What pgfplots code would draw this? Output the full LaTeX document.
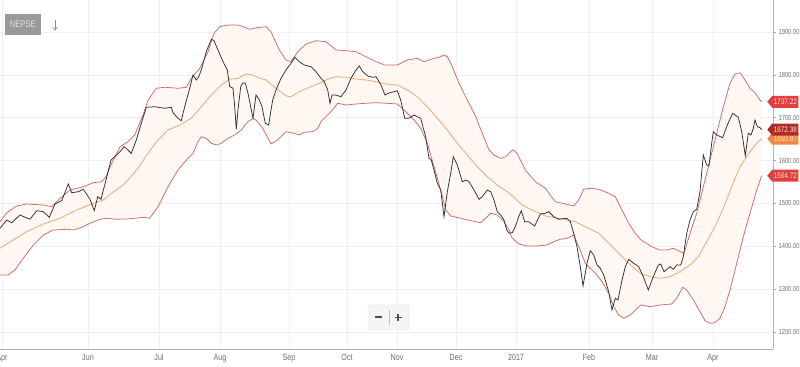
\documentclass[border=0pt]{standalone}
\usepackage{fontspec}
\setmainfont{Liberation Sans}
\newfontfamily\condfont[FakeStretch=0.8]{Liberation Sans}
\usepackage{pgfplots}
\pgfplotsset{compat=1.18}
\usepackage{pgfplotstable}
\usepgfplotslibrary{fillbetween}
\usetikzlibrary{shapes.symbols}
\definecolor{bandred}{HTML}{D06A6A}
\definecolor{midorange}{HTML}{EDB07C}
\definecolor{bandfill}{HTML}{FFF8F2}
\definecolor{gridc}{HTML}{EFEFEF}
\definecolor{labgray}{HTML}{6E6E6E}
\definecolor{flagred}{HTML}{E0403C}
\definecolor{flagdark}{HTML}{B02A22}
\definecolor{flagorange}{HTML}{F08A3E}

\pgfplotstableread{
x y
0 1442.0
6.7 1461.3
11.7 1455.0
20 1473.0
30 1463.0
36.7 1483.0
43.3 1480.7
49.3 1467.6
55 1498.7
61.7 1506.4
68.3 1545.3
71.7 1525.0
78.3 1527.3
83.3 1533.0
90 1509.6
94.3 1483.0
97.7 1515.7
101 1509.6
106 1554.7
111 1601.3
116.7 1613.0
120 1620.7
124 1632.3
128 1624.7
131.3 1617.0
136.3 1648.0
141.3 1687.0
146.3 1724.3
154.7 1725.7
164.7 1722.0
171.3 1724.3
173 1711.7
178 1698.7
181.3 1693.0
184.7 1725.7
189.7 1768.7
193 1799.7
196.3 1788.0
198.7 1795.7
201.3 1811.3
206.3 1854.0
211.3 1883.0
214 1879.7
218 1858.0
223 1830.7
227.3 1811.3
229.7 1772.4
233 1768.7
234.7 1725.7
236.3 1673.0
238 1718.0
240.7 1772.4
243 1781.7
245.3 1780.3
248 1757.0
250.7 1725.7
253 1698.7
256 1753.0
259.3 1741.3
262 1725.7
265.3 1687.0
268.7 1683.0
271 1718.0
272.7 1741.3
276 1764.7
281 1792.0
286 1811.3
291 1827.0
295 1841.0
299.3 1830.7
304.3 1823.0
311 1819.0
316 1807.4
321 1792.0
324.3 1784.0
327.7 1764.7
330 1733.7
332 1753.0
335.3 1753.0
341 1749.0
346 1764.7
351 1792.0
356 1811.3
359.3 1820.7
362.7 1807.4
367.7 1797.3
372.7 1794.3
376 1795.7
381 1776.3
385 1753.0
389 1757.7
394 1760.7
397.3 1763.0
400.7 1741.3
404.7 1698.7
409 1698.7
414 1706.3
417.3 1702.3
420.7 1698.7
423.3 1675.3
425.7 1655.7
429 1605.3
431.3 1601.3
434 1578.0
437.3 1547.0
440.7 1531.3
444 1469.0
447.3 1527.3
450.7 1570.3
453.3 1609.0
457.3 1589.7
462.3 1550.7
465.7 1554.7
469 1550.7
474 1531.3
479 1509.6
482.3 1515.7
487.3 1531.3
490.7 1527.3
494 1508.0
497.3 1480.7
500.7 1473.0
504 1461.3
506.7 1438.0
509 1430.3
512.3 1432.0
515.3 1445.7
518.7 1469.0
521.3 1483.0
524.7 1457.3
528.7 1457.3
534.7 1447.3
540.3 1475.3
545.3 1477.0
548.7 1480.7
553.7 1469.0
558.7 1463.0
567 1465.3
570.3 1457.3
573.7 1430.3
577 1399.0
580.3 1352.3
583 1307.3
587 1360.3
590.3 1389.7
593.7 1379.7
597 1356.3
600.3 1348.6
603.7 1333.0
608.7 1294.0
612 1251.3
615.3 1278.6
618 1274.7
622 1321.3
625.3 1352.3
628.7 1369.6
633.7 1360.3
638.7 1352.3
641 1340.7
643.3 1329.0
648.3 1298.0
653.3 1329.0
658.3 1356.3
660.7 1358.7
664 1340.7
670 1352.3
673.3 1346.3
676.7 1356.3
680.7 1356.3
683.3 1375.7
686.7 1430.3
690 1461.3
693.3 1480.7
696.7 1486.3
700 1527.3
703.3 1613.0
706.7 1589.7
709 1588.0
711.7 1640.3
713.3 1667.4
716.7 1659.7
722.7 1653.4
727.3 1683.0
732.7 1710.3
738.3 1701.0
741.7 1667.4
745.3 1611.4
748.3 1663.7
751 1659.7
753.3 1675.3
755 1694.7
757.3 1679.0
760 1676.7
761.7 1672.38
}\closedata

\pgfplotstableread{
x y
0 1457.4
6.7 1478.4
16.7 1494.0
26.7 1498.7
43.3 1496.3
51.7 1492.4
58.3 1508.0
70 1531.3
83.3 1539.0
93.3 1548.4
101.7 1550.7
106 1562.4
111.7 1593.6
120 1632.3
128 1644.0
134.7 1659.7
143 1706.3
148 1741.3
156.3 1768.7
164.7 1771.0
178 1768.7
186.3 1771.0
191.3 1792.0
199.7 1815.3
208 1854.0
214 1897.0
219.7 1912.4
228 1916.3
238 1916.3
243 1912.4
249.7 1906.3
257 1910.0
266 1912.4
271 1900.7
279.3 1858.0
286 1834.7
291 1830.7
297.7 1854.0
306 1872.0
316 1879.7
326 1877.4
336 1858.0
346 1856.4
356 1854.0
366 1842.4
376 1830.7
385 1823.0
397.3 1823.0
407.3 1834.7
417.3 1838.7
424 1830.7
430.7 1836.3
439 1841.0
444 1846.4
447.3 1842.4
452.3 1819.0
459 1780.3
467.3 1741.3
475.7 1702.4
482.3 1663.7
489 1624.7
494 1613.0
500.7 1605.3
505.7 1609.0
510.7 1620.7
513 1625.5
517 1617.0
525.3 1578.0
535.3 1550.7
545.3 1535.3
555.3 1504.0
565.3 1498.7
573.7 1494.0
578.7 1508.0
583.7 1533.0
590.3 1535.3
598.7 1533.0
608.7 1523.7
615.3 1515.7
622 1484.7
628.7 1453.6
635.3 1430.3
641 1414.7
651.7 1399.0
660 1391.3
666.7 1391.3
673.3 1395.3
681.7 1386.0
684 1383.6
690 1430.3
696.7 1477.0
703.3 1539.0
710 1601.3
716.7 1663.7
723.3 1725.7
730 1780.3
735 1802.0
740 1805.0
745 1788.0
750 1768.7
755 1758.4
760 1741.3
761.7 1737.22
}\upperdata

\pgfplotstableread{
x y
0 1395.3
13.3 1414.7
26.7 1434.0
43.3 1452.0
60 1465.3
76.7 1484.7
93.3 1500.3
103.3 1508.0
113.3 1527.3
123.3 1543.0
128 1554.7
138 1582.0
148 1617.0
158 1648.0
168 1671.3
179.7 1683.0
191.3 1698.7
201.3 1725.7
211.3 1753.0
221.3 1776.3
229.7 1789.7
238 1792.0
246.3 1802.0
253 1799.7
257 1794.3
266 1788.0
276 1768.7
286 1750.7
291 1749.0
299.3 1760.7
309.3 1771.0
319.3 1780.3
327.7 1789.7
336 1795.7
346 1794.3
356 1790.3
366 1788.0
376 1784.0
385 1779.0
397.3 1776.3
407.3 1764.7
417.3 1749.0
427.3 1725.7
437.3 1698.7
447.3 1671.3
457.3 1640.3
467.3 1613.0
477.3 1585.7
487.3 1562.4
497.3 1543.0
507.3 1527.3
513 1516.5
522 1496.3
532 1484.7
545.3 1470.7
558.7 1465.3
575.3 1457.3
585.3 1445.7
598.7 1430.3
608.7 1407.0
618.7 1383.6
628.7 1360.3
641 1335.7
650 1329.0
660 1325.3
670 1329.0
680 1340.7
690 1356.3
698.3 1375.7
706.7 1410.7
715 1445.7
723.3 1488.7
731.7 1539.0
740 1585.7
750 1620.7
756.7 1640.3
761.7 1650.97
}\middata

\pgfplotstableread{
x y
0 1333.0
8.3 1333.0
15 1344.7
23.3 1372.0
33.3 1403.0
43.3 1426.3
53.3 1438.0
66.7 1439.6
73.3 1438.0
81.7 1444.3
90 1453.6
100 1463.0
106.7 1465.3
116.7 1463.0
129 1464.0
143 1467.6
149.7 1465.3
158 1492.4
168 1539.0
178 1578.0
186.3 1601.3
193 1617.0
198 1644.0
201.3 1655.7
206.3 1652.0
211.3 1640.3
216.3 1636.3
221.3 1640.3
228 1652.0
234.7 1659.7
237 1663.7
241.3 1671.3
248 1690.7
253 1698.7
256 1694.7
262.7 1675.3
271 1638.7
277.7 1648.0
286 1667.4
294.3 1663.7
299.3 1659.7
304.3 1666.0
312.7 1667.4
317.7 1675.3
321 1690.7
326 1702.4
331 1714.0
337.7 1733.7
346 1729.7
356 1732.0
366 1733.7
376 1735.0
385 1734.0
397.3 1732.0
404 1718.0
414 1694.7
420.7 1675.3
427.3 1640.3
434 1585.7
440.7 1531.3
445.7 1484.7
450.7 1470.7
460.7 1465.3
470.7 1459.7
480.7 1455.0
485.7 1465.3
490.7 1477.0
497.3 1473.0
504 1457.3
509 1438.0
512 1420.0
518.7 1405.3
527 1400.7
537 1400.7
547 1403.0
553.7 1410.7
560.3 1416.3
567 1418.6
573.7 1426.3
578.7 1399.0
585.3 1360.3
595.3 1337.0
602 1317.4
608.7 1290.3
613.7 1259.0
618.7 1239.7
623.7 1232.0
630.3 1239.7
637 1255.3
641 1263.0
650 1259.0
660 1263.0
671.7 1265.3
676.7 1278.6
682.7 1304.3
686.7 1298.0
693.3 1274.7
700 1247.4
705 1226.4
710 1220.3
715 1221.7
720 1232.0
725 1259.0
730 1298.0
736.7 1360.3
743.3 1422.4
750 1476.9
756.7 1531.3
761.7 1564.72
}\lowerdata

\begin{document}
\begin{tikzpicture}
\begin{axis}[
  at={(0,18bp)}, anchor=south west,
  scale only axis, width=773bp, height=349bp,
  xmin=0, xmax=773, ymin=1160.3, ymax=1974.67,
  axis x line*=bottom, axis y line*=right,
  axis line style={draw=black!30, line width=0.6bp},
  xtick={2,88,159,220,289,347,397,456,516,589,652,713},
  xticklabels={Apr,Jun,Jul,Aug,Sep,Oct,Nov,Dec,2017,Feb,Mar,Apr},
  ytick={1200,1300,1400,1500,1600,1700,1800,1900},
  yticklabel pos=right,
  grid=major, major grid style={draw=gridc, line width=0.5bp},
  tick align=outside,
  xtick style={draw=none},
  ytick style={draw=black!35, line width=0.5bp},
  major tick length=2.5bp,
  yticklabel style={font=\condfont\fontsize{7.3}{8}\selectfont, text=labgray, xshift=-0.5bp,
    /pgf/number format/.cd, fixed, fixed zerofill, precision=2, 1000 sep={}, assume math mode=true},
  xticklabel style={font=\condfont\fontsize{9}{10}\selectfont, text=labgray, yshift=1bp},
  clip=false,
]
\addplot[name path=upper, draw=bandred, line width=0.75bp] table {\upperdata};
\addplot[name path=lower, draw=bandred, line width=0.75bp] table {\lowerdata};
\addplot[bandfill] fill between[of=upper and lower];
\addplot[draw=midorange, line width=0.9bp] table {\middata};
\addplot[draw=black!82, line width=0.75bp] table {\closedata};
\node[signal, signal to=west, signal pointer angle=100, fill=flagred, text=white!88!red, inner xsep=1.5bp, inner ysep=1.2bp, minimum height=12bp, font=\condfont\fontsize{8}{8}\selectfont, anchor=west] at (axis cs:767,1737.22) {1737.22};
\node[signal, signal to=west, signal pointer angle=100, fill=flagorange, text=white!88!red, inner xsep=1.5bp, inner ysep=1.2bp, minimum height=12bp, font=\condfont\fontsize{8}{8}\selectfont, anchor=west] at (axis cs:767,1650.97) {1650.97};
\node[signal, signal to=west, signal pointer angle=100, fill=flagdark, text=white!88!red, inner xsep=1.5bp, inner ysep=1.2bp, minimum height=12bp, font=\condfont\fontsize{8}{8}\selectfont, anchor=west] at (axis cs:767,1672.38) {1672.38};
\node[signal, signal to=west, signal pointer angle=100, fill=flagred, text=white!88!red, inner xsep=1.5bp, inner ysep=1.2bp, minimum height=12bp, font=\condfont\fontsize{8}{8}\selectfont, anchor=west] at (axis cs:767,1564.72) {1564.72};
\end{axis}
% NEPSE button and arrow
\fill[black!40] (5bp,332bp) rectangle (40.5bp,353bp);
\node[text=white!88!black, font=\condfont\fontsize{9.5}{10}\selectfont] at (22.75bp,342.5bp) {NEPSE};
\draw[black!45, line width=0.6bp] (55bp,347bp) -- (55bp,337bp);
\draw[black!45, line width=0.6bp] (52.5bp,340bp) -- (55bp,337bp) -- (57.5bp,340bp);
% zoom control
\draw[fill=black!4, draw=black!10, rounded corners=2bp] (368bp,37bp) rectangle (409bp,62bp);
\draw[black!70, line width=2bp] (375bp,49.5bp) -- (382bp,49.5bp);
\draw[black!70, line width=1.8bp] (394.5bp,49.5bp) -- (401.5bp,49.5bp);
\draw[black!70, line width=1.8bp] (398bp,46bp) -- (398bp,53bp);
\draw[black!25, line width=0.5bp] (389.5bp,42bp) -- (389.5bp,57bp);
\pgfresetboundingbox
\useasboundingbox (0,0) rectangle (800bp,367bp);
\end{tikzpicture}
\end{document}
